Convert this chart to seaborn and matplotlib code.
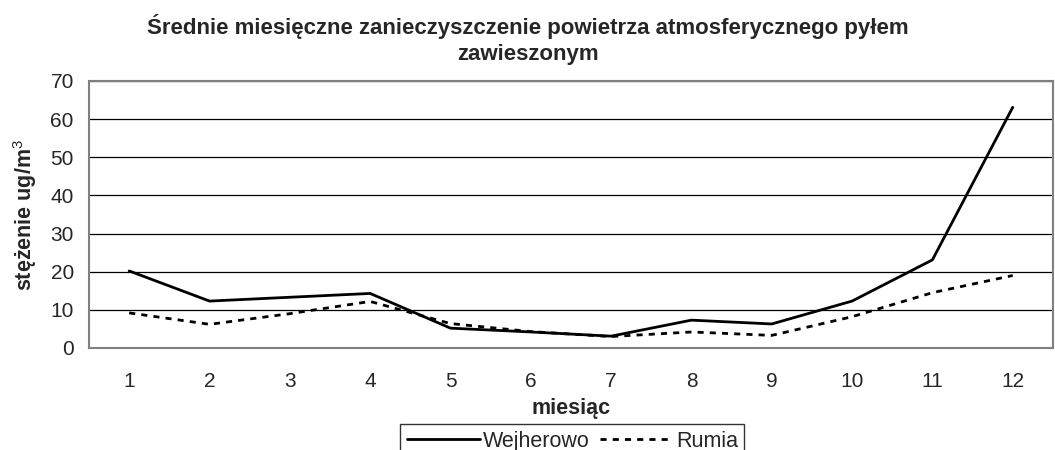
import matplotlib
matplotlib.use('Agg')
import matplotlib.pyplot as plt
import seaborn as sns
import pandas as pd
import numpy as np
from matplotlib.ticker import MultipleLocator, FixedLocator

# ---------------------------------------------------------------------------
# Data
# ---------------------------------------------------------------------------

months = list(range(1, 13))
wejherowo = [20.2, 12.3, 13.3, 14.3, 5.2, 4.2, 3.1, 7.3, 6.3, 12.3, 23.1, 63.1]
rumia = [9.2, 6.2, 9.0, 12.2, 6.4, 4.3, 3.0, 4.2, 3.3, 8.2, 14.5, 19.0]

title = "Średnie miesięczne zanieczyszczenie powietrza atmosferycznego pyłem\nzawieszonym"
xlabel = "miesiąc"
ylabel = "stężenie ug/m$^3$"

df = pd.DataFrame({
    "miesiac": months * 2,
    "wartosc": wejherowo + rumia,
    "stacja": ["Wejherowo"] * 12 + ["Rumia"] * 12,
})

# ---------------------------------------------------------------------------
# Style
# ---------------------------------------------------------------------------

sns.set_style("white")
plt.rcParams["font.family"] = ["Liberation Sans", "DejaVu Sans"]
plt.rcParams["mathtext.fontset"] = "custom"
plt.rcParams["mathtext.rm"] = "Liberation Sans"
plt.rcParams["mathtext.bf"] = "Liberation Sans:bold"

fig = plt.figure(figsize=(10.55, 4.5), dpi=100)
ax = fig.add_axes([0.0844, 0.2267, 0.9136, 0.5933])

sns.lineplot(
    data=df, x="miesiac", y="wartosc", hue="stacja", style="stacja",
    palette={"Wejherowo": "black", "Rumia": "black"},
    dashes={"Wejherowo": "", "Rumia": (2.2, 2.2)},
    linewidth=2, ax=ax, legend=False,
)

ax.set_xlim(0.5, 12.5)
ax.set_ylim(0, 70)
ax.yaxis.set_major_locator(MultipleLocator(10))
ax.set_xticks(months)
ax.xaxis.set_minor_locator(FixedLocator(np.arange(0.5, 13.0, 1.0)))
ax.tick_params(axis="x", which="major", length=0, labelsize=15, pad=17)
ax.tick_params(axis="x", which="minor", length=6, width=1, color="#808080", direction="out")
ax.tick_params(axis="y", which="major", length=5, width=1, color="#808080", direction="out", labelsize=15, pad=6)

ax.grid(axis="y", color="black", linewidth=0.9)
ax.set_axisbelow(True)
for s in ax.spines.values():
    s.set_color("#808080")
    s.set_linewidth(1.5)

ax.set_xlabel(xlabel, fontsize=15.5, fontweight="bold", labelpad=5)
ax.set_ylabel(ylabel, fontsize=15.5, fontweight="bold", labelpad=8)
fig.suptitle(title, fontsize=16, fontweight="bold", y=0.969, linespacing=1.3)

# legend box sits at the bottom edge, cut off like in the original
handles = [
    plt.Line2D([], [], color="black", linewidth=2),
    plt.Line2D([], [], color="black", linewidth=2, dashes=(2.2, 2.2)),
]
leg = fig.legend(
    handles, ["Wejherowo", "Rumia"], loc="upper center", ncol=2,
    bbox_to_anchor=(0.5425, 0.057), borderaxespad=0, frameon=True, fancybox=False,
    fontsize=15.5, handlelength=3.4, handletextpad=0.12, columnspacing=0.5,
    borderpad=0.3,
)
leg.get_frame().set_edgecolor("black")
leg.get_frame().set_linewidth(1)

fig.savefig("out.png", dpi=100)
plt.close()
